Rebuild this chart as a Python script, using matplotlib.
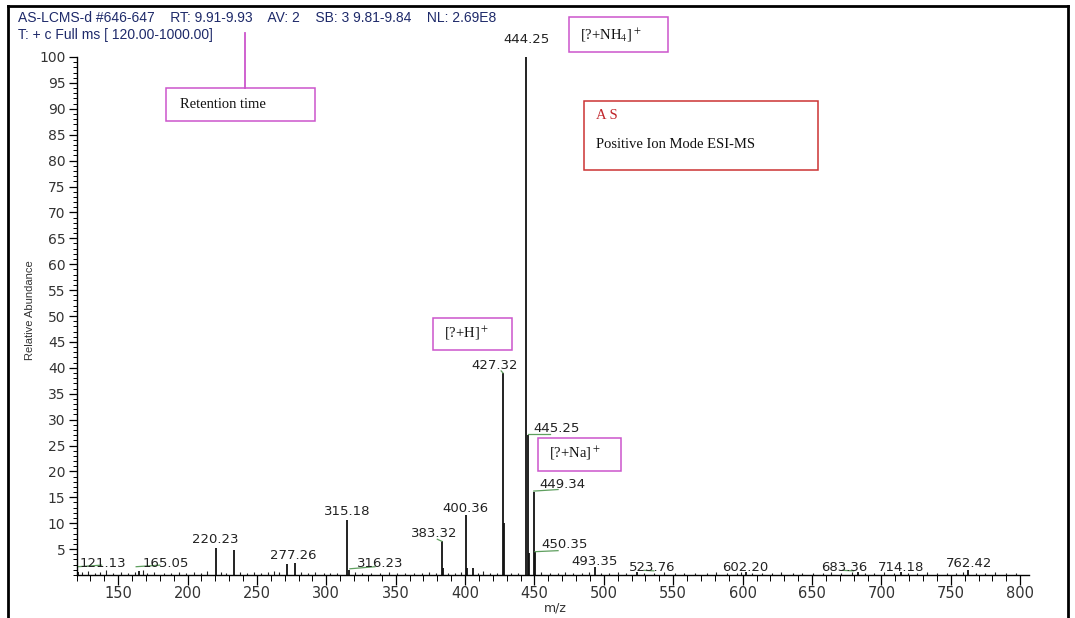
import matplotlib
matplotlib.use("Agg")
import matplotlib.pyplot as plt
from matplotlib.patches import Rectangle
from matplotlib.lines import Line2D
from matplotlib.ticker import MultipleLocator

# peaks (m/z, relative abundance %)
peak_mz = [121.13, 165.05, 220.23, 233.60, 271.70, 277.26, 315.18, 316.23,
           383.32, 384.30, 400.36, 401.30, 405.80, 427.32, 428.30, 444.25,
           445.25, 446.25, 449.34, 450.35, 493.35, 523.76, 602.20, 683.36,
           714.18, 762.42]
peak_ab = [0.6, 0.8, 5.3, 4.8, 2.1, 2.3, 10.7, 1.0,
           6.5, 1.3, 11.5, 1.4, 1.3, 39.0, 10.0, 100.0,
           27.0, 4.2, 16.0, 4.5, 1.5, 0.5, 0.5, 0.6,
           0.5, 0.9]

# small baseline peaks
noise_mz = [124, 128, 133, 137, 141, 146, 152, 157, 162, 168, 171, 176, 183,
            188, 194, 199, 205, 210, 214, 224, 228, 238, 243, 248, 253, 258,
            262, 266, 282, 287, 292, 298, 303, 308, 321, 326, 332, 339, 345,
            351, 357, 363, 369, 374, 379, 388, 393, 397, 409, 413, 418, 423,
            433, 438, 455, 461, 467, 472, 478, 484, 489, 498, 504, 510, 516,
            529, 536, 543, 551, 558, 566, 574, 581, 589, 596, 599, 607, 614,
            621, 628, 636, 643, 651, 658, 664, 671, 679, 688, 695, 702, 709,
            719, 726, 733, 740, 747, 754, 759, 768, 775, 782, 790, 797]
noise_ab = [0.5, 0.8, 0.4, 0.6, 0.9, 0.4, 0.5, 0.3, 0.6, 0.9, 0.4, 0.5, 0.3,
            0.4, 0.6, 0.3, 0.5, 0.4, 0.7, 0.6, 0.4, 0.5, 0.3, 0.5, 0.4, 0.6,
            0.8, 0.5, 0.6, 0.4, 0.5, 0.3, 0.4, 0.3, 0.5, 0.4, 0.3, 0.4, 0.5,
            0.3, 0.4, 0.3, 0.4, 0.5, 0.3, 0.4, 0.3, 0.5, 0.4, 0.7, 0.4, 0.3,
            0.4, 0.3, 0.5, 0.4, 0.3, 0.5, 0.3, 0.4, 0.6, 0.4, 0.3, 0.5, 0.3,
            0.4, 0.3, 0.5, 0.4, 0.3, 0.4, 0.3, 0.5, 0.3, 0.4, 0.6, 0.3, 0.4,
            0.3, 0.5, 0.3, 0.4, 0.3, 0.4, 0.5, 0.3, 0.6, 0.4, 0.3, 0.5, 0.3,
            0.4, 0.3, 0.5, 0.3, 0.4, 0.3, 0.6, 0.4, 0.3, 0.5, 0.3, 0.4]

# labelled peaks and where their labels sit (label centre m/z, abundance)
label_mz = [121.13, 165.05, 220.23, 277.26, 315.18, 316.23, 383.32, 400.36,
            427.32, 444.25, 445.25, 449.34, 450.35, 493.35, 523.76, 602.20,
            683.36, 714.18, 762.42]
label_x = [139, 184, 220, 276, 315, 339, 378, 400,
           421.5, 444, 466, 470, 472, 493, 535, 602, 673, 714, 763]
label_y = [2.3, 2.3, 6.8, 3.7, 12.2, 2.3, 8.1, 12.9,
           40.5, 103.3, 28.2, 17.4, 5.8, 2.7, 1.5, 1.5, 1.5, 1.5, 2.3]

# green leader lines under some labels: (x0, x1, y0, y1)
leaders = [(121, 138, 1.6, 1.9), (163, 180, 1.6, 1.9), (317, 335, 1.2, 1.6),
           (380, 383.3, 6.9, 6.5), (427.3, 426, 39.0, 39.4),
           (445.3, 461, 27.2, 27.2), (449.5, 467, 16.2, 16.5),
           (450.4, 467, 4.5, 4.7), (529, 536, 0.9, 0.8), (672, 680, 0.9, 0.8)]

W, H = 1075, 618
fig = plt.figure(figsize=(W / 100, H / 100), dpi=100)
fig.patch.set_facecolor("white")


def fx(x):
    return x / W


def fy(y):
    return 1 - y / H


ax = fig.add_axes([fx(76.5), fy(575), (1028.5 - 76.5) / W, (575 - 57) / H])
ax.set_xlim(120, 806)
ax.set_ylim(0, 100)

ax.vlines(noise_mz, 0, noise_ab, color="#222222", lw=0.8)
ax.vlines(peak_mz, 0, peak_ab, color="#111111", lw=1.3)

for lx, ly, m in zip(label_x, label_y, label_mz):
    ax.text(lx, ly, f"{m:.2f}", ha="center", va="center", fontsize=9.5,
            color="#222222", family="DejaVu Sans", clip_on=False)

for x0, x1, y0, y1 in leaders:
    ax.plot([x0, x1], [y0, y1], color="#5f9f5f", lw=0.9)

for s in ["top", "right"]:
    ax.spines[s].set_visible(False)
ax.spines["left"].set_linewidth(1.0)
ax.spines["bottom"].set_linewidth(1.0)

ax.set_yticks(range(5, 101, 5))
ax.yaxis.set_minor_locator(MultipleLocator(1))
ax.set_xticks(range(150, 801, 50))
ax.xaxis.set_minor_locator(MultipleLocator(10))
ax.tick_params(axis="y", which="major", length=6, width=0.9, labelsize=10,
               labelcolor="#333333", pad=2)
ax.tick_params(axis="y", which="minor", length=3, width=0.7)
ax.tick_params(axis="x", which="major", length=7, width=0.9, labelsize=10.5,
               labelcolor="#333333", pad=1)
ax.tick_params(axis="x", which="minor", length=4, width=0.7)
for lab in ax.get_xticklabels() + ax.get_yticklabels():
    lab.set_family("DejaVu Sans")

fig.text(fx(30), fy(310), "Relative Abundance", rotation=90, ha="center",
         va="center", fontsize=8, color="#333333", family="Liberation Sans")
fig.text(fx(555), fy(608), "m/z", ha="center", va="center", fontsize=9,
         color="#333333", family="DejaVu Sans")

# header lines
hdr = "#1e2a6a"
fig.text(fx(18), fy(18), "AS-LCMS-d #646-647    RT: 9.91-9.93    AV: 2    SB: 3 9.81-9.84    NL: 2.69E8",
         ha="left", va="center", fontsize=10, color=hdr, family="Liberation Sans")
fig.text(fx(18), fy(35), "T: + c Full ms [ 120.00-1000.00]", ha="left", va="center",
         fontsize=10, color=hdr, family="Liberation Sans")

# outer frame
for xs, ys in [([8, 1068], [6, 6]), ([8, 8], [6, 618]), ([1068, 1068], [6, 618])]:
    fig.add_artist(Line2D([fx(v) for v in xs], [fy(v) for v in ys],
                          color="black", lw=2))

mag = "#cc55cc"
plt.rcParams["mathtext.fontset"] = "stix"


def box(x0, y0, x1, y1, color):
    fig.add_artist(Rectangle((fx(x0), fy(y1)), (x1 - x0) / W, (y1 - y0) / H,
                             fill=False, edgecolor=color, lw=1.1))


# retention time box and pointer
fig.add_artist(Line2D([fx(245), fx(245)], [fy(33), fy(88)], color=mag, lw=1.3))
box(166, 88, 315, 121, mag)
fig.text(fx(180), fy(105), "Retention time", ha="left", va="center",
         fontsize=10.5, family="Liberation Serif", color="#111111")

box(569, 17, 668, 52, mag)
fig.text(fx(580), fy(35), r"[?+NH$_4$]$^+$", ha="left", va="center",
         fontsize=10.5, family="Liberation Serif", color="#111111")

box(433, 318, 512, 350, mag)
fig.text(fx(444), fy(333), r"[?+H]$^+$", ha="left", va="center",
         fontsize=10.5, family="Liberation Serif", color="#111111")

box(538, 438, 621, 471, mag)
fig.text(fx(549), fy(453), r"[?+Na]$^+$", ha="left", va="center",
         fontsize=10.5, family="Liberation Serif", color="#111111")

box(584, 101, 818, 170, "#cc3333")
fig.text(fx(596), fy(115), "A S", ha="left", va="center", fontsize=10.5,
         family="Liberation Serif", color="#c0262b")
fig.text(fx(596), fy(145), "Positive Ion Mode ESI-MS", ha="left", va="center",
         fontsize=10.5, family="Liberation Serif", color="#111111")

fig.savefig("out.png", dpi=100)
